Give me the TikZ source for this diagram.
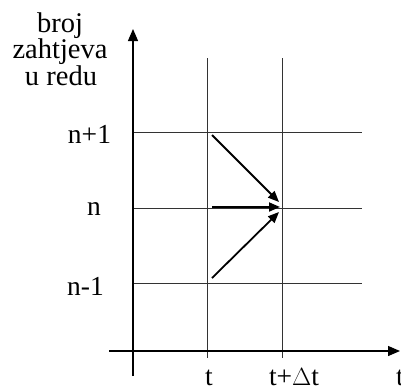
\documentclass[tikz,border=0pt]{standalone}
\usepackage{fontspec}
\setmainfont{Liberation Serif}
\usetikzlibrary{arrows.meta}
\begin{document}
\begin{tikzpicture}[x=1pt,y=-1pt,
  gridline/.style={line width=0.9pt, black!80},
  axisline/.style={line width=1.3pt, -{Triangle[length=12pt,width=10pt]}},
  trans/.style={line width=1.8pt, -{Triangle[length=11pt,width=9pt]}},
  lab/.style={font=\fontsize{27.5}{30}\selectfont, inner sep=0pt, anchor=base},
  ylab/.style={lab, font=\fontsize{28.5}{30}\selectfont}]
\useasboundingbox (0,0) rectangle (401,389);
% grid coordinates
\coordinate (h1l) at (133,132); \coordinate (h1r) at (362,132);
\coordinate (h2l) at (133,208); \coordinate (h2r) at (362,208);
\coordinate (h3l) at (133,283); \coordinate (h3r) at (362,283);
\coordinate (v1t) at (207,58);  \coordinate (v1b) at (207,358);
\coordinate (v2t) at (282,58);  \coordinate (v2b) at (282,358);
\draw[gridline] (h1l) -- (h1r);
\draw[gridline] (h2l) -- (h2r);
\draw[gridline] (h3l) -- (h3r);
\draw[gridline] (v1t) -- (v1b);
\draw[gridline] (v2t) -- (v2b);
% axes
\coordinate (yb) at (133,376); \coordinate (yt) at (133,29);
\coordinate (xl) at (109,351); \coordinate (xr) at (400,351);
\draw[axisline] (yb) -- (yt);
\draw[axisline] (xl) -- (xr);
% transitions
\coordinate (a1s) at (212,135); \coordinate (a1e) at (279,202);
\coordinate (a2s) at (212,207); \coordinate (a2e) at (280,207);
\coordinate (a3s) at (212,278); \coordinate (a3e) at (279,212);
\draw[trans] (a1s) -- (a1e);
\draw[trans] (a2s) -- (a2e);
\draw[trans] (a3s) -- (a3e);
% labels
\node[ylab] (yl1) at (60,32) {broj};
\node[ylab] (yl2) at (60,58) {zahtjeva};
\node[ylab] (yl3) at (61,85) {u redu};
\node[lab] (np1) at (89.5,143) {n+1};
\node[lab] (n0) at (94,215) {n};
\node[lab] (nm1) at (85.5,295) {n-1};
\node[lab] (tl) at (209,385) {t};
\node[lab] (tdl) at (294,385) {t+\(\Delta\)t};
\node[lab, anchor=base west] (tax) at (396,385) {t};
\end{tikzpicture}
\end{document}
